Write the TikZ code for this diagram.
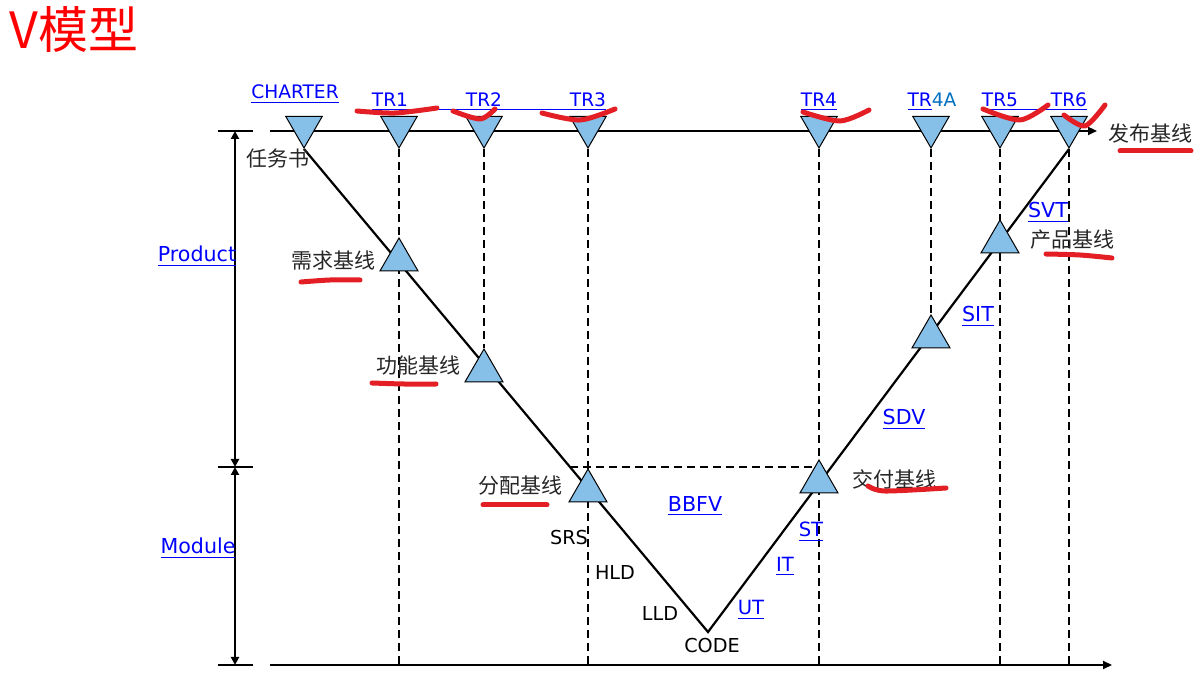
\documentclass[tikz,border=0pt]{standalone}
\usepackage{fontspec}
\setsansfont{DejaVu Sans}
\newfontfamily\cjk{Noto Sans CJK SC}
\usetikzlibrary{arrows.meta, shapes.geometric, backgrounds}
\definecolor{triBlue}{HTML}{86BFE7}
\definecolor{linkBlue}{HTML}{0000FF}
\definecolor{lightLink}{HTML}{0070C0}
\definecolor{labelGrey}{HTML}{262626}
\definecolor{titleRed}{HTML}{FF0000}
\definecolor{markRed}{HTML}{E31E24}

\newcommand{\lnk}[1]{\underline{#1}}

\begin{document}
\begin{tikzpicture}[
  x=0.5pt, y=-0.5pt,
  every node/.style={font=\sffamily, inner sep=0pt},
  gatedown/.style={
    draw=black, line width=0.5pt, fill=triBlue,
    regular polygon, regular polygon sides=3, shape border rotate=180,
    minimum size=21pt
  },
  gateup/.style={
    draw=black, line width=0.5pt, fill=triBlue,
    regular polygon, regular polygon sides=3,
    minimum size=22pt
  },
  milestone/.style={anchor=base, text=linkBlue, font=\sffamily\fontsize{9.3}{10}\selectfont},
  testlbl/.style={anchor=base, text=linkBlue, font=\sffamily\fontsize{10.3}{11}\selectfont},
  phase/.style={anchor=base, text=black, font=\sffamily\fontsize{9.6}{10}\selectfont},
  cjklbl/.style={text=labelGrey, font=\cjk\fontsize{10.5}{12}\selectfont},
  axisline/.style={line width=1.1pt, draw=black},
  dimline/.style={line width=1.1pt, <->, >={Triangle[length=4pt, width=4pt]}},
  vline/.style={line width=1.1pt, draw=black},
  guideline/.style={line width=1.1pt, dash pattern=on 4pt off 2.5pt},
  scribble/.style={draw=markRed, line width=2.5pt, line cap=round, line join=round}
]
\useasboundingbox (0,0) rectangle (1195,673);

\node[anchor=west, text=titleRed, font=\cjk\fontsize{25}{27}\selectfont] (title) at (9,30) {V模型};

% axes
\coordinate (topStart) at (270,131);
\coordinate (topEnd) at (1097,131);
\coordinate (botStart) at (270,665);
\coordinate (botEnd) at (1112,665);
\coordinate (axTop) at (235,131);
\coordinate (axMid) at (235,467);
\coordinate (axBot) at (235,665);
\coordinate (codev) at (708,632);
\coordinate (bbfvL) at (570,467);

% decision points on the release line
\node[gatedown] (charter) at (304,127) {};
\node[gatedown] (tr1) at (399,127) {};
\node[gatedown] (tr2) at (484,127) {};
\node[gatedown] (tr3) at (588,127) {};
\node[gatedown] (tr4) at (819,127) {};
\node[gatedown] (tr4a) at (931,127) {};
\node[gatedown] (tr5) at (1000,127) {};
\node[gatedown] (tr6) at (1069,127) {};

% baselines on the V
\node[gateup] (reqb) at (399,260) {};
\node[gateup] (funcb) at (484,371) {};
\node[gateup] (allocb) at (588,491) {};
\node[gateup] (delivb) at (819,482) {};
\node[gateup] (sitb) at (931,337) {};
\node[gateup] (prodb) at (1000,242) {};

\begin{scope}[on background layer]
  \draw[axisline, -{Triangle[length=4.5pt, width=4pt]}] (topStart) -- (topEnd);
  \draw[axisline, -{Triangle[length=4.5pt, width=4pt]}] (botStart) -- (botEnd);
  \draw[vline] (charter.corner 1) -- (codev) -- (tr6.corner 1);
  \foreach \g in {tr1, tr3, tr4, tr5, tr6}
    \draw[guideline] (\g.corner 1) -- (\g.corner 1 |- botStart);
  \draw[guideline] (tr2.corner 1) -- (funcb.corner 1);
  \draw[guideline] (tr4a.corner 1) -- (sitb.corner 1);
  \draw[guideline] (bbfvL) -- (delivb.center |- bbfvL);
\end{scope}

% left scale
\foreach \t in {axTop, axMid, axBot}
  \draw[axisline] ([xshift=-8.5pt]\t) -- ([xshift=9pt]\t);
\draw[dimline] (axTop) -- (axMid);
\draw[dimline] (axMid) -- (axBot);
\node[testlbl] (product) at (197,262) {\lnk{Product}};
\node[testlbl] (module) at (198,554) {\lnk{Module}};

% milestone labels
\node[milestone] (charterlbl) at (295,99) {\lnk{CHARTER}};
\node[milestone] (tr1lbl) at (390,107) {TR1};
\node[milestone] (tr2lbl) at (484,107) {TR2};
\node[milestone] (tr3lbl) at (588,107) {TR3};
\node[milestone] (tr4lbl) at (819,107) {\lnk{TR4}};
\node[milestone] (tr4albl) at (932,107) {\lnk{TR}\textcolor{lightLink}{4A}};
\node[milestone] (tr5lbl) at (1000,107) {TR5};
\node[milestone] (tr6lbl) at (1069,107) {TR6};
\draw[linkBlue, line width=0.5pt] ([yshift=-1.2pt]tr1lbl.base west) -- ([yshift=-1.2pt]tr3lbl.base east);
\draw[linkBlue, line width=0.5pt] ([yshift=-1.2pt]tr5lbl.base west) -- ([yshift=-1.2pt]tr6lbl.base east);

% baseline names
\node[cjklbl] (charterdoc) at (278,159) {任务书};
\node[cjklbl] (reqlbl) at (333,261) {需求基线};
\node[cjklbl] (funclbl) at (418,366) {功能基线};
\node[cjklbl] (alloclbl) at (520,486) {分配基线};
\node[cjklbl] (delivlbl) at (894,479) {交付基线};
\node[cjklbl] (prodlbl) at (1072,240) {产品基线};
\node[cjklbl] (rellbl) at (1150,134) {发布基线};

% phases and tests
\node[phase] (srs) at (569,545) {SRS};
\node[phase] (hld) at (615,580) {HLD};
\node[phase] (lld) at (660,621) {LLD};
\node[phase] (code) at (712,653) {CODE};
\node[testlbl] (bbfv) at (695,512) {\lnk{BBFV}};
\node[testlbl] (sdv) at (904,425) {\lnk{SDV}};
\node[testlbl] (sit) at (978,322) {\lnk{SIT}};
\node[testlbl] (svt) at (1048,218) {\lnk{SVT}};
\node[testlbl, font=\sffamily\fontsize{9.8}{10}\selectfont] (st) at (811,537) {\lnk{ST}};
\node[testlbl, font=\sffamily\fontsize{9.8}{10}\selectfont] (it) at (785,572) {\lnk{IT}};
\node[testlbl, font=\sffamily\fontsize{9.8}{10}\selectfont] (ut) at (751,615) {\lnk{UT}};

% red marks
\draw[scribble] plot[smooth] coordinates {(357,111) (395,113) (437,108)};
\draw[scribble] plot[smooth] coordinates {(453,111) (480,119) (495,109)};
\draw[scribble] plot[smooth] coordinates {(542,113) (580,120) (615,109)};
\draw[scribble] plot[smooth] coordinates {(803,112) (840,121) (869,110)};
\draw[scribble] plot[smooth] coordinates {(983,109) (1020,120) (1048,105)};
\draw[scribble] plot[smooth] coordinates {(1064,115) (1085,126) (1105,105)};
\draw[scribble] (1120,151) -- (1191,151);
\draw[scribble] plot[smooth] coordinates {(301,282) (330,280) (360,280)};
\draw[scribble] plot[smooth] coordinates {(372,383) (404,384) (436,384)};
\draw[scribble] (483,505) -- (547,505);
\draw[scribble] plot[smooth] coordinates {(868,486) (885,491) (946,488)};
\draw[scribble] plot[smooth] coordinates {(1046,254) (1080,255) (1112,258)};

\end{tikzpicture}
\end{document}
